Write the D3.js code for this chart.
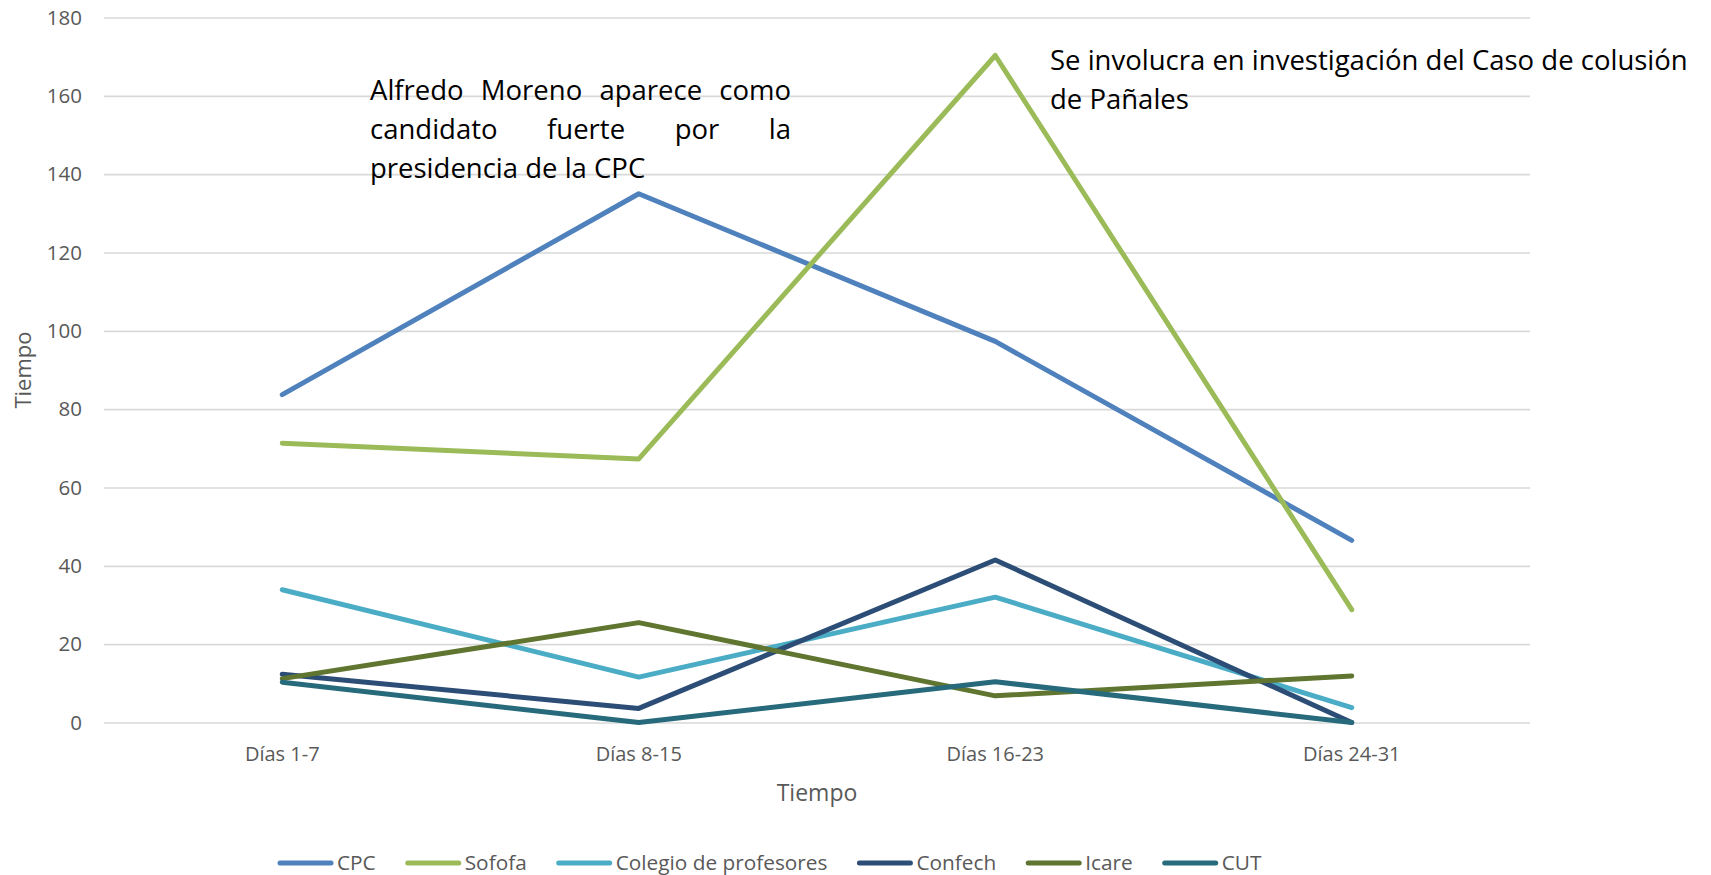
<!DOCTYPE html>
<html>
<head>
<meta charset="utf-8">
<script src="https://cdn.jsdelivr.net/npm/d3@7"></script>
<style>
  html, body { margin: 0; padding: 0; background: #fff; }
  svg { display: block; font-family: 'Open Sans', sans-serif; }
</style>
</head>
<body>
<div id="chart"></div>
<script>
// categories and series
var categories = ['Días 1-7', 'Días 8-15', 'Días 16-23', 'Días 24-31'];
var seriesNames = ['CPC', 'Sofofa', 'Colegio de profesores', 'Confech', 'Icare', 'CUT'];
var cpc     = [83.7, 135, 97.3, 46.5];
var sofofa  = [71.3, 67.3, 170.3, 28.8];
var colegio = [33.9, 11.6, 32.0, 3.8];
var confech = [12.3, 3.6, 41.5, 0];
var icare   = [11.2, 25.5, 6.8, 11.9];
var cut     = [10.3, 0, 10.4, 0];
var yTicks  = [0, 20, 40, 60, 80, 100, 120, 140, 160, 180];
var colors  = ['#4f81bd', '#9bbb59', '#4bacc6', '#2c4d75', '#5f7530', '#276a7c'];

var note1 = ['Alfredo Moreno aparece como', 'candidato fuerte por la', 'presidencia de la CPC'];
var note2 = ['Se involucra en investigación del Caso de colusión', 'de Pañales'];

var attrs = {
  svgWidth: 1711,
  svgHeight: 875,
  marginTop: 17.5,
  marginLeft: 104,
  marginRight: 181,
  marginBottom: 152.5,
  axisColor: '#595959',
  gridColor: '#d9d9d9'
};

var calc = {};
calc.chartWidth = attrs.svgWidth - attrs.marginLeft - attrs.marginRight;
calc.chartHeight = attrs.svgHeight - attrs.marginTop - attrs.marginBottom;

var series = [cpc, sofofa, colegio, confech, icare, cut].map(function (vals, i) {
  return { name: seriesNames[i], color: colors[i], values: vals };
});

var xScale = d3.scaleBand().domain(categories).range([0, calc.chartWidth]);
var yScale = d3.scaleLinear().domain([0, 180]).range([calc.chartHeight, 0]);

var svg = d3.select('#chart').append('svg')
  .attr('width', attrs.svgWidth)
  .attr('height', attrs.svgHeight);

var chart = svg.append('g')
  .attr('transform', 'translate(' + attrs.marginLeft + ',' + attrs.marginTop + ')');

// gridlines + y labels
var yAxis = d3.axisLeft(yScale).tickValues(yTicks).tickSize(-calc.chartWidth).tickPadding(22);
var yAxisLayer = chart.append('g').call(yAxis);
yAxisLayer.select('.domain').remove();
yAxisLayer.selectAll('line').attr('stroke', attrs.gridColor).attr('stroke-width', 1.6);
yAxisLayer.selectAll('text')
  .attr('fill', attrs.axisColor)
  .style('font-size', '20.5px')
  .style('font-family', "'Open Sans', sans-serif");

// x labels
var xAxis = d3.axisBottom(xScale).tickSize(0).tickPadding(24);
var xAxisLayer = chart.append('g')
  .attr('transform', 'translate(0,' + calc.chartHeight + ')')
  .call(xAxis);
xAxisLayer.select('.domain').remove();
xAxisLayer.selectAll('text')
  .attr('fill', attrs.axisColor)
  .style('font-size', '20px')
  .style('font-family', "'Open Sans', sans-serif");

// axis titles
chart.append('text')
  .attr('x', calc.chartWidth / 2)
  .attr('y', calc.chartHeight + 78)
  .attr('text-anchor', 'middle')
  .attr('fill', attrs.axisColor)
  .style('font-size', '23px')
  .text('Tiempo');

svg.append('text')
  .attr('transform', 'translate(31,' + (attrs.marginTop + calc.chartHeight / 2) + ') rotate(-90)')
  .attr('text-anchor', 'middle')
  .attr('fill', attrs.axisColor)
  .style('font-size', '22px')
  .text('Tiempo');

// lines
var line = d3.line()
  .x(function (d, i) { return xScale(categories[i]) + xScale.bandwidth() / 2; })
  .y(function (d) { return yScale(d); });

chart.selectAll('.series').data(series).enter().append('path')
  .attr('class', 'series')
  .attr('d', function (d) { return line(d.values); })
  .attr('fill', 'none')
  .attr('stroke', function (d) { return d.color; })
  .attr('stroke-width', 5)
  .attr('stroke-linejoin', 'round')
  .attr('stroke-linecap', 'round');

// annotations
function justified(lines, x, width, y0, lineH, size) {
  var g = svg.append('g').style('font-size', size + 'px').attr('fill', '#000');
  lines.forEach(function (txt, li) {
    var words = txt.split(' ');
    var y = y0 + li * lineH;
    var last = li === lines.length - 1;
    var nodes = words.map(function (w) {
      return g.append('text').attr('y', y).text(w);
    });
    var widths = nodes.map(function (n) { return n.node().getComputedTextLength(); });
    var total = d3.sum(widths);
    var gap = last ? size * 0.26 : (width - total) / (words.length - 1);
    var cx = x;
    nodes.forEach(function (n, i) {
      n.attr('x', cx);
      cx += widths[i] + gap;
    });
  });
}
justified(note1, 370, 421, 100, 38.8, 27.5);

svg.append('g').style('font-size', '27.5px').attr('fill', '#000')
  .selectAll('text').data(note2).enter().append('text')
  .attr('x', 1050)
  .attr('y', function (d, i) { return 70 + i * 39; })
  .text(function (d) { return d; });

// legend
var legend = svg.append('g').attr('transform', 'translate(278,863)');
var lx = 0;
series.forEach(function (s) {
  var item = legend.append('g').attr('transform', 'translate(' + lx + ',0)');
  item.append('line')
    .attr('x1', 2).attr('x2', 53)
    .attr('stroke', s.color).attr('stroke-width', 5).attr('stroke-linecap', 'round');
  var t = item.append('text')
    .attr('x', 59).attr('dy', '0.35em')
    .attr('fill', attrs.axisColor)
    .style('font-size', '20.8px')
    .text(s.name);
  lx += 59 + t.node().getComputedTextLength() + 30;
});
</script>
</body>
</html>
